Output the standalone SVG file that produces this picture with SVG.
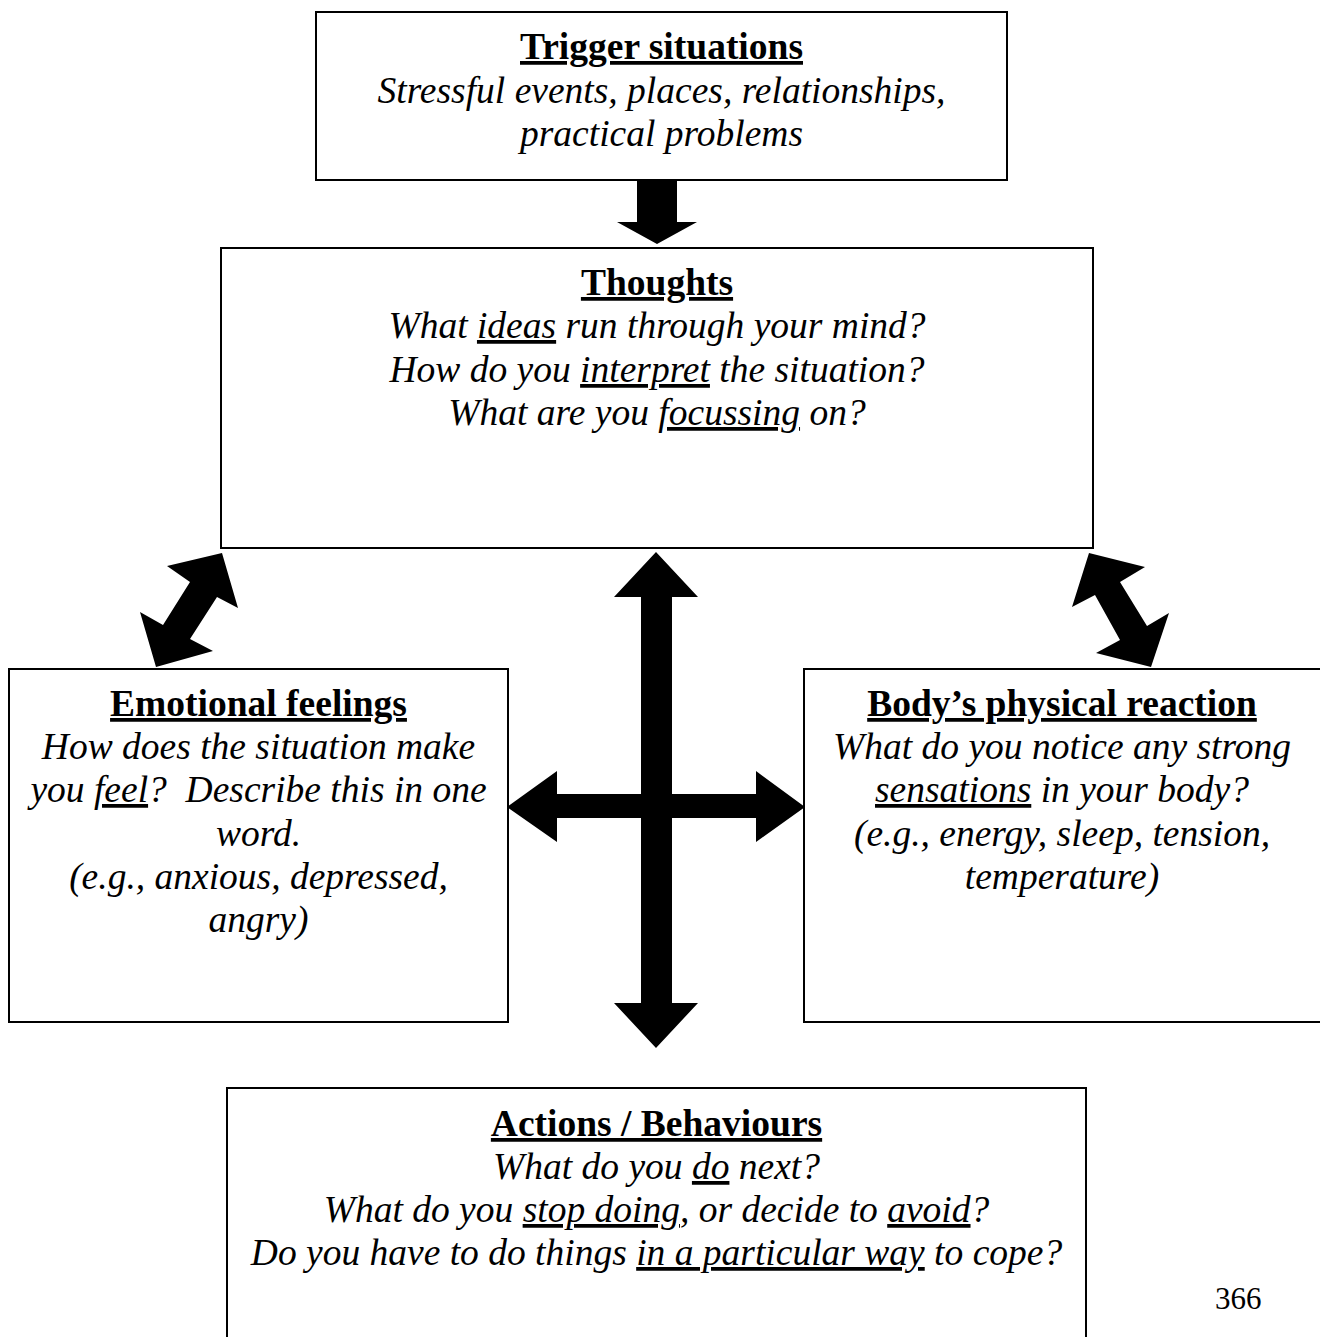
<svg xmlns="http://www.w3.org/2000/svg" width="1320" height="1337" viewBox="0 0 1320 1337">
<style>
.box{fill:#fff;stroke:#000;stroke-width:2}
.t{font-family:"Liberation Serif","Times New Roman",serif;font-size:37.5px;text-anchor:middle;fill:#000}
.h{font-weight:bold;text-decoration:underline}
.i{font-style:italic}
.u{text-decoration:underline}
.arr{fill:#000}
.pg{font-family:"Liberation Serif","Times New Roman",serif;font-size:31px;fill:#000}
</style>
<rect width="1320" height="1337" fill="#fff"/>
<g id="trigger">
<rect class="box" x="316" y="12" width="691" height="168"/>
<text class="t h" x="661.5" y="59">Trigger situations</text>
<text class="t i" x="661.5" y="103">Stressful events, places, relationships,</text>
<text class="t i" x="661.5" y="146">practical problems</text>
</g>
<g id="thoughts">
<rect class="box" x="221" y="248" width="872" height="300"/>
<text class="t h" x="657" y="295">Thoughts</text>
<text class="t i" x="657" y="338">What <tspan class="u">ideas</tspan> run through your mind?</text>
<text class="t i" x="657" y="382">How do you <tspan class="u">interpret</tspan> the situation?</text>
<text class="t i" x="657" y="425">What are you <tspan class="u">focussing</tspan> on?</text>
</g>
<g id="emotional">
<rect class="box" x="9" y="669" width="499" height="353"/>
<text class="t h" x="258.5" y="716">Emotional feelings</text>
<text class="t i" x="258.5" y="759">How does the situation make</text>
<text class="t i" x="258.5" y="802">you <tspan class="u">feel</tspan>?&#160; Describe this in one</text>
<text class="t i" x="258.5" y="846">word.</text>
<text class="t i" x="258.5" y="889">(e.g., anxious, depressed,</text>
<text class="t i" x="258.5" y="932">angry)</text>
</g>
<g id="body">
<rect class="box" x="804" y="669" width="518" height="353"/>
<text class="t h" x="1062" y="716">Body’s physical reaction</text>
<text class="t i" x="1062" y="759">What do you notice any strong</text>
<text class="t i" x="1062" y="802"><tspan class="u">sensations</tspan> in your body?</text>
<text class="t i" x="1062" y="846">(e.g., energy, sleep, tension,</text>
<text class="t i" x="1062" y="889">temperature)</text>
</g>
<g id="actions">
<rect class="box" x="227" y="1088" width="859" height="260"/>
<text class="t h" x="656.5" y="1136">Actions / Behaviours</text>
<text class="t i" x="656.5" y="1179">What do you <tspan class="u">do</tspan> next?</text>
<text class="t i" x="656.5" y="1222">What do you <tspan class="u">stop doing</tspan>, or decide to <tspan class="u">avoid</tspan>?</text>
<text class="t i" x="656.5" y="1265">Do you have to do things <tspan class="u">in a particular way</tspan> to cope?</text>
</g>
<text class="pg" x="1215" y="1309">366</text>
<g id="connectors">
<polygon class="arr" points="637,181 677,181 677,222 697,222 657,244 617,222 637,222"/>
<polygon class="arr" points="656,552 698,597 672,597 672,794 756,794 756,771 805,807 756,842 756,818 672,818 672,1003 698,1003 656,1048 614,1003 641,1003 641,818 557,818 557,842 507,807 557,771 557,794 641,794 641,597 614,597"/>
<polygon class="arr" points="222,553 238,608 217,597 190,639 213,651 156,667 140,612 163,625 190,582 167,566"/>
<polygon class="arr" points="1089,553 1145,567 1120,582 1147,626 1169,613 1151,667 1096,653 1120,640 1095,595 1072,607"/>
</g>
</svg>
